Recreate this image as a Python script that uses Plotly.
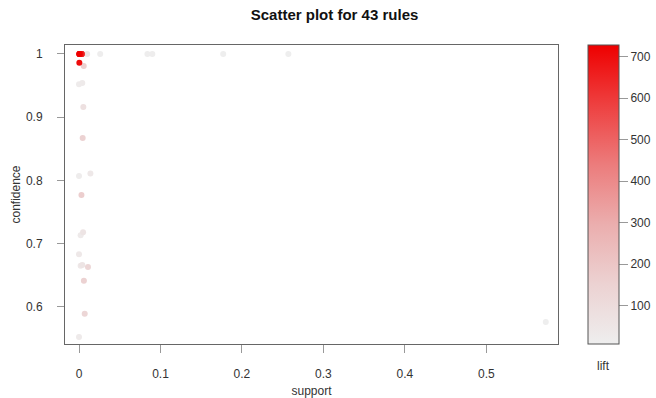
import plotly.graph_objects as go

# Rule measures
support = [0.0003, 0.0005, 0.0008, 0.0010, 0.0012, 0.0015, 0.0018, 0.0020, 0.0022,
           0.0025, 0.0028, 0.0030, 0.0033, 0.0035, 0.0004, 0.0016, 0.0026, 0.0038,
           0.0100, 0.0260, 0.0840, 0.0900, 0.1770, 0.2570, 0.0004, 0.0058, 0.0000,
           0.0040, 0.0053, 0.0045, 0.0000, 0.0140, 0.0030, 0.0020, 0.0050, 0.0000,
           0.0020, 0.0040, 0.0110, 0.0060, 0.0070, 0.0000, 0.5730]
confidence = [1.0, 1.0, 1.0, 1.0, 1.0, 1.0, 1.0, 1.0, 1.0,
              1.0, 1.0, 1.0, 1.0, 1.0, 1.0, 1.0, 1.0, 1.0,
              1.0, 1.0, 1.0, 1.0, 1.0, 1.0, 0.986, 0.981, 0.952,
              0.954, 0.916, 0.867, 0.807, 0.811, 0.777, 0.713, 0.718, 0.683,
              0.665, 0.666, 0.663, 0.641, 0.589, 0.552, 0.576]
lift = [728, 710, 700, 690, 680, 670, 660, 650, 640,
        630, 620, 610, 600, 590, 400, 350, 300, 250,
        50, 15, 12, 12, 9, 9, 700, 160, 25,
        30, 80, 150, 20, 40, 170, 30, 60, 40,
        40, 60, 130, 150, 130, 30, 8]

x_ticks = [0, 0.1, 0.2, 0.3, 0.4, 0.5]
y_ticks = [0.6, 0.7, 0.8, 0.9, 1.0]
y_tick_labels = ["0.6", "0.7", "0.8", "0.9", "1"]
cbar_ticks = [100, 200, 300, 400, 500, 600, 700]

# draw low lift first so high-lift rules end on top
order = sorted(range(len(lift)), key=lambda i: lift[i])
xs = [support[i] for i in order]
ys = [confidence[i] for i in order]
cs = [lift[i] for i in order]

colorscale = [
    [0.0, "#EEEEEE"],
    [0.2, "#ECD2D2"],
    [0.4, "#EBAEAE"],
    [0.6, "#EC7C7C"],
    [0.8, "#EE4040"],
    [1.0, "#EE0000"],
]

FONT = "Liberation Sans, Arial"
axis_font = dict(size=12, color="#333333", family=FONT)

fig = go.Figure(go.Scatter(
    x=xs, y=ys, mode="markers",
    marker=dict(
        size=6, color=cs, colorscale=colorscale,
        cmin=min(lift), cmax=max(lift), line=dict(width=0),
        colorbar=dict(
            x=1.061, xanchor="left", xref="paper",
            y=0.5, yanchor="middle", len=1.0, lenmode="fraction",
            thickness=31, thicknessmode="pixels",
            outlinecolor="#555555", outlinewidth=1,
            tickvals=cbar_ticks, ticks="outside", ticklen=9,
            tickcolor="#999999", tickfont=axis_font,
            ypad=0, xpad=0,
        ),
    ),
    hoverinfo="skip",
))

fig.update_layout(
    width=656, height=398,
    margin=dict(l=65, r=98, t=45, b=54, autoexpand=False),
    paper_bgcolor="white", plot_bgcolor="white",
    showlegend=False,
    font=dict(family=FONT),
    title=dict(text="<b>Scatter plot for 43 rules</b>", x=0.51, xanchor="center",
               y=0.963, yanchor="middle",
               font=dict(size=15, color="#111111", family=FONT)),
    xaxis=dict(
        range=[-0.0172, 0.588], tickvals=x_ticks, ticks="outside", ticklen=8,
        tickcolor="#999999", tickfont=axis_font, showgrid=False, zeroline=False,
        showline=True, mirror=True, linecolor="#666666", linewidth=1,
        ticklabelstandoff=11, automargin=False,
        title=dict(text="support", font=axis_font, standoff=7),
    ),
    yaxis=dict(
        range=[0.541, 1.0142], tickvals=y_ticks, ticktext=y_tick_labels,
        ticks="outside", ticklen=7, tickcolor="#999999", tickfont=axis_font,
        showgrid=False, zeroline=False, showline=True, mirror=True,
        linecolor="#666666", linewidth=1, ticklabelstandoff=12, automargin=False,
        title=dict(text="confidence", font=axis_font, standoff=2),
    ),
    annotations=[dict(text="lift", xref="paper", yref="paper",
                      x=1.061 + 15.5 / 493, y=-0.075, xanchor="center",
                      yanchor="middle", showarrow=False, font=axis_font)],
)

fig.write_html(
    "out.html",
    config={"displayModeBar": False},
    post_script="document.body.style.margin='0';document.body.style.overflow='hidden';",
)
